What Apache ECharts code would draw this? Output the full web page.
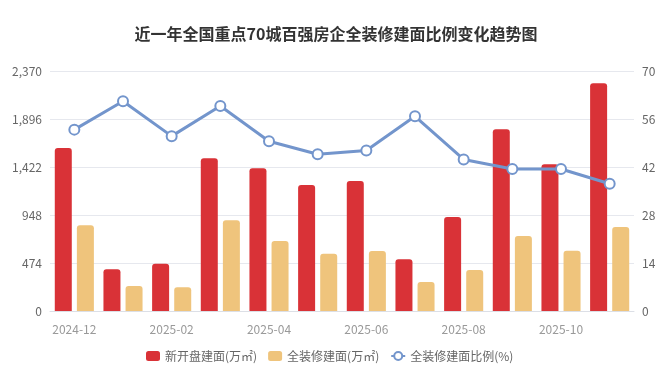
<!DOCTYPE html>
<html><head><meta charset="utf-8">
<script src="https://cdn.jsdelivr.net/npm/echarts@6/dist/echarts.min.js"></script>
<style>html,body{margin:0;padding:0;background:#fff}#c{width:672px;height:383px}</style>
</head><body><div id="c"></div>
<script>
const categories = ['2024-12','2025-01','2025-02','2025-03','2025-04','2025-05','2025-06','2025-07','2025-08','2025-09','2025-10','2025-11'];
const newOpen = [1610, 412, 467, 1508, 1409, 1244, 1284, 510, 928, 1794, 1448, 2248];
const fullDecor = [846, 247, 234, 895, 691, 566, 592, 286, 405, 741, 596, 830];
const ratio = [52.9, 61.2, 51.0, 59.8, 49.5, 45.7, 46.8, 56.8, 44.2, 41.4, 41.4, 37.1];
const leftTicks = {min: 0, max: 2370, interval: 474};
const rightTicks = {min: 0, max: 70, interval: 14};
const chart = echarts.init(document.getElementById('c'));
const FF = '"Noto Sans CJK SC", "Noto Sans", sans-serif';
chart.setOption({
  animation: false,
  textStyle: {fontFamily: FF},
  title: {text: '近一年全国重点70城百强房企全装修建面比例变化趋势图', left: 'center', top: 21,
    textStyle: {fontSize: 16, fontWeight: 'bold', color: '#333', fontFamily: FF}},
  legend: {left: 141, bottom: 16, itemWidth: 14, itemHeight: 10, itemGap: 11,
    textStyle: {color: '#666', fontSize: 12, fontFamily: FF},
    data: [{name: '新开盘建面(万㎡)', icon: 'roundRect'}, {name: '全装修建面(万㎡)', icon: 'roundRect'}, {name: '全装修建面比例(%)'}]},
  grid: {left: 50, right: 38, top: 71, bottom: 72},
  xAxis: {type: 'category', data: categories,
    axisLine: {lineStyle: {color: '#dcdfe6'}},
    axisTick: {alignWithLabel: true, interval: 1, lineStyle: {color: '#dcdfe6'}},
    axisLabel: {interval: 1, color: '#999', fontSize: 12, margin: 12}},
  yAxis: [
    {type: 'value', min: leftTicks.min, max: leftTicks.max, interval: leftTicks.interval,
      axisLabel: {color: '#666', fontSize: 12, formatter: v => v.toLocaleString('en-US')},
      splitLine: {lineStyle: {color: '#e6e8ee'}}, axisLine: {show: false}, axisTick: {show: false}},
    {type: 'value', min: rightTicks.min, max: rightTicks.max, interval: rightTicks.interval,
      axisLabel: {color: '#666', fontSize: 12},
      splitLine: {show: false}, axisLine: {show: false}, axisTick: {show: false}}
  ],
  series: [
    {name: '新开盘建面(万㎡)', type: 'bar', data: newOpen, barWidth: 17, barGap: '30%',
      itemStyle: {color: '#d93237', borderRadius: [3, 3, 0, 0]}},
    {name: '全装修建面(万㎡)', type: 'bar', data: fullDecor, barWidth: 17,
      itemStyle: {color: '#efc47c', borderRadius: [3, 3, 0, 0]}},
    {name: '全装修建面比例(%)', type: 'line', yAxisIndex: 1, data: ratio,
      symbol: 'emptyCircle', symbolSize: 10,
      lineStyle: {width: 3, color: '#7395cc'},
      itemStyle: {color: '#7395cc', borderColor: '#7395cc', borderWidth: 1.5}}
  ]
});
</script></body></html>
